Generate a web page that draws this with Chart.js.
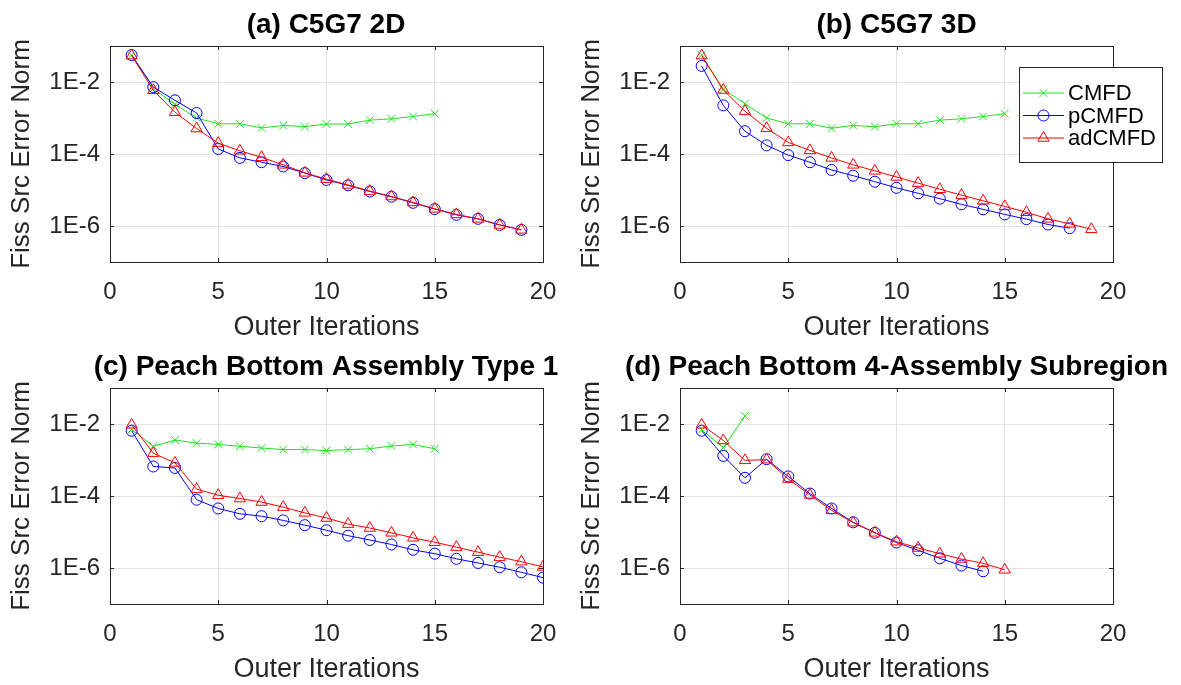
<!DOCTYPE html>
<html lang="en">
<head>
    <meta charset="UTF-8">
    <title>Fission Source Error Convergence</title>
    <style>
        html, body {
            margin: 0;
            padding: 0;
            background: #ffffff;
            overflow: hidden;
        }
        .page {
            position: relative;
            width: 1181px;
            height: 685px;
            overflow: hidden;
        }
        .page canvas {
            position: absolute;
        }
    </style>
    <script src="https://cdn.jsdelivr.net/npm/chart.js"></script>
</head>
<body>
<div class="page">
    <canvas id="chart-a" width="652" height="342" style="left:0px;top:0px;"></canvas>
    <canvas id="chart-b" width="653" height="342" style="left:570px;top:0px;"></canvas>
    <canvas id="chart-c" width="652" height="342" style="left:0px;top:342px;"></canvas>
    <canvas id="chart-d" width="653" height="342" style="left:570px;top:342px;"></canvas>
</div>
<script>
    // Series values (error norm per outer iteration, starting at iteration 1)
    const seriesNames = ['CMFD', 'pCMFD', 'adCMFD'];

    // (a) C5G7 2D
    const aCmfd = [5.6e-2, 6.5e-3, 2.4e-3, 1.0e-3, 6.9e-4, 6.9e-4, 5.3e-4, 6.2e-4, 5.75e-4, 6.8e-4, 6.8e-4, 8.7e-4, 9.5e-4, 1.1e-3, 1.32e-3];
    const aPcmfd = [5.6e-2, 7.2e-3, 3.1e-3, 1.38e-3, 1.38e-4, 7.8e-5, 5.9e-5, 4.5e-5, 2.95e-5, 1.9e-5, 1.35e-5, 9.1e-6, 6.5e-6, 4.4e-6, 2.95e-6, 2.04e-6, 1.58e-6, 1.07e-6, 7.8e-7];
    const aAdcmfd = [5.4e-2, 5.9e-3, 1.45e-3, 5.1e-4, 2.0e-4, 1.23e-4, 8.1e-5, 5.0e-5, 3.0e-5, 2.0e-5, 1.38e-5, 9.3e-6, 6.6e-6, 4.5e-6, 3.0e-6, 2.1e-6, 1.58e-6, 1.07e-6, 7.8e-7];

    // (b) C5G7 3D
    const bCmfd = [5.6e-2, 6.3e-3, 2.5e-3, 1.0e-3, 6.9e-4, 6.9e-4, 5.2e-4, 6.2e-4, 5.75e-4, 6.9e-4, 6.9e-4, 8.7e-4, 9.5e-4, 1.1e-3, 1.32e-3];
    const bPcmfd = [2.8e-2, 2.24e-3, 4.3e-4, 1.74e-4, 9.3e-5, 5.9e-5, 3.6e-5, 2.5e-5, 1.7e-5, 1.15e-5, 8.1e-6, 5.75e-6, 4.0e-6, 2.9e-6, 2.1e-6, 1.55e-6, 1.1e-6, 8.7e-7];
    const bAdcmfd = [5.4e-2, 6.0e-3, 1.55e-3, 5.2e-4, 2.1e-4, 1.26e-4, 7.8e-5, 5.0e-5, 3.4e-5, 2.3e-5, 1.55e-5, 1.05e-5, 7.2e-6, 5.0e-6, 3.5e-6, 2.4e-6, 1.58e-6, 1.15e-6, 8.1e-7];

    // (c) Peach Bottom Assembly Type 1
    const cCmfd = [7.1e-3, 2.4e-3, 3.6e-3, 2.95e-3, 2.7e-3, 2.4e-3, 2.15e-3, 1.95e-3, 1.95e-3, 1.82e-3, 1.95e-3, 2.05e-3, 2.45e-3, 2.7e-3, 2.05e-3];
    const cPcmfd = [6.5e-3, 6.6e-4, 6.0e-4, 7.9e-5, 4.5e-5, 3.2e-5, 2.75e-5, 2.1e-5, 1.55e-5, 1.12e-5, 7.9e-6, 6.0e-6, 4.5e-6, 3.2e-6, 2.5e-6, 1.8e-6, 1.38e-6, 1.05e-6, 7.6e-7, 5.4e-7];
    const cAdcmfd = [9.5e-3, 1.55e-3, 8.3e-4, 1.55e-4, 1.05e-4, 8.5e-5, 6.8e-5, 4.9e-5, 3.4e-5, 2.45e-5, 1.66e-5, 1.29e-5, 9.5e-6, 6.9e-6, 5.2e-6, 3.8e-6, 2.75e-6, 2.0e-6, 1.5e-6, 1.07e-6];

    // (d) Peach Bottom 4-Assembly Subregion
    const dCmfd = [6.9e-3, 2.2e-3, 1.66e-2];
    const dPcmfd = [6.5e-3, 1.3e-3, 3.2e-4, 1.05e-3, 3.5e-4, 1.17e-4, 4.5e-5, 1.86e-5, 9.5e-6, 5.1e-6, 3.1e-6, 1.86e-6, 1.17e-6, 8.1e-7];
    const dAdcmfd = [9.5e-3, 3.5e-3, 9.8e-4, 1.02e-3, 2.95e-4, 1.07e-4, 4.0e-5, 1.82e-5, 9.5e-6, 5.4e-6, 3.6e-6, 2.5e-6, 1.78e-6, 1.35e-6, 8.9e-7];

    // Axis ticks
    const xTicks = [0, 5, 10, 15, 20];
    const yTickVals = [1e-6, 1e-4, 1e-2];
    const yTickLabels = ['1E-6', '1E-4', '1E-2'];

    const FONT = "'Liberation Sans', Arial, Helvetica, sans-serif";
    const TEXT = '#262626';
    const GRID = '#e3e3e3';
    const COLORS = ['#22e022', '#0000ff', '#ff0000'];
    const STYLES = ['crossRot', 'circle', 'triangle'];
    const RADII = [5.5, 5.5, 6.5];

    function toPoints(values) {
        return values.map((v, i) => ({ x: i + 1, y: v }));
    }

    function drawMarker(ctx, style, x, y, r) {
        ctx.beginPath();
        if (style === 'circle') {
            ctx.arc(x, y, r, 0, Math.PI * 2);
        } else if (style === 'triangle') {
            for (let k = 0; k < 3; k++) {
                const a = k * 2 * Math.PI / 3;
                const px = x + Math.sin(a) * r;
                const py = y - Math.cos(a) * r;
                if (k === 0) ctx.moveTo(px, py); else ctx.lineTo(px, py);
            }
            ctx.closePath();
        } else {
            const d = r * Math.SQRT1_2;
            ctx.moveTo(x - d, y - d); ctx.lineTo(x + d, y + d);
            ctx.moveTo(x - d, y + d); ctx.lineTo(x + d, y - d);
        }
        ctx.stroke();
    }

    // box around the plot area plus small inward tick marks (MATLAB style)
    const boxPlugin = {
        id: 'box',
        beforeDatasetsDraw(chart) {
            const ctx = chart.ctx;
            const a = chart.chartArea;
            const xs = chart.scales.x, ys = chart.scales.y;
            ctx.save();
            ctx.strokeStyle = TEXT;
            ctx.lineWidth = 1;
            ctx.strokeRect(Math.round(a.left) + 0.5, Math.round(a.top) + 0.5,
                Math.round(a.right - a.left), Math.round(a.bottom - a.top));
            ctx.beginPath();
            xTicks.forEach(t => {
                const px = Math.round(xs.getPixelForValue(t)) + 0.5;
                ctx.moveTo(px, a.bottom); ctx.lineTo(px, a.bottom - 4);
                ctx.moveTo(px, a.top); ctx.lineTo(px, a.top + 4);
            });
            yTickVals.forEach(t => {
                const py = Math.round(ys.getPixelForValue(t)) + 0.5;
                ctx.moveTo(a.left, py); ctx.lineTo(a.left + 4, py);
                ctx.moveTo(a.right, py); ctx.lineTo(a.right - 4, py);
            });
            ctx.stroke();
            ctx.restore();
        }
    };

    // legend box drawn inside panel (b), overlapping the right edge
    const legendPlugin = {
        id: 'boxLegend',
        afterDraw(chart, args, opts) {
            if (!opts.show) return;
            const ctx = chart.ctx;
            const left = 449, top = 67, right = 592, bottom = 162;
            ctx.save();
            ctx.fillStyle = '#ffffff';
            ctx.fillRect(left, top, right - left, bottom - top);
            ctx.strokeStyle = TEXT;
            ctx.lineWidth = 1;
            ctx.strokeRect(left + 0.5, top + 0.5, right - left, bottom - top);
            const rows = [93, 115.5, 138];
            ctx.font = '22px ' + FONT;
            ctx.textBaseline = 'middle';
            ctx.textAlign = 'left';
            seriesNames.forEach((name, i) => {
                ctx.strokeStyle = COLORS[i];
                ctx.lineWidth = 1;
                ctx.beginPath();
                ctx.moveTo(453, rows[i]); ctx.lineTo(494, rows[i]);
                ctx.stroke();
                drawMarker(ctx, STYLES[i], 473.5, rows[i], RADII[i]);
                ctx.fillStyle = '#000000';
                ctx.fillText(name, 498, rows[i] + 1);
            });
            ctx.restore();
        }
    };

    function makePanel(id, title, series, rightPad, legend) {
        const datasets = series.map((vals, i) => ({
            label: seriesNames[i],
            data: toPoints(vals),
            borderColor: COLORS[i],
            backgroundColor: 'rgba(0,0,0,0)',
            borderWidth: 1,
            pointStyle: STYLES[i],
            pointRadius: RADII[i],
            pointBorderColor: COLORS[i],
            pointBackgroundColor: 'rgba(0,0,0,0)',
            pointBorderWidth: 1,
            tension: 0,
            fill: false,
            order: 2 - i
        }));

        new Chart(document.getElementById(id), {
            type: 'line',
            data: { datasets: datasets },
            plugins: [boxPlugin, legendPlugin],
            options: {
                responsive: false,
                animation: false,
                events: [],
                layout: { padding: 0 },
                plugins: {
                    legend: { display: false },
                    tooltip: { enabled: false },
                    boxLegend: { show: legend },
                    title: {
                        display: true,
                        text: title,
                        color: '#000000',
                        font: { family: FONT, size: 28, weight: 'bold', lineHeight: 1.2 },
                        padding: { top: 8.8, bottom: 3.6 }
                    }
                },
                scales: {
                    x: {
                        type: 'linear',
                        min: 0,
                        max: 20,
                        afterBuildTicks: s => { s.ticks = xTicks.map(v => ({ value: v })); },
                        afterFit: s => { s.height = 80; },
                        grid: { color: GRID, drawTicks: false },
                        border: { display: false },
                        ticks: {
                            color: TEXT,
                            padding: 16,
                            maxRotation: 0,
                            font: { family: FONT, size: 24 },
                            callback: v => String(v)
                        },
                        title: {
                            display: true,
                            text: 'Outer Iterations',
                            color: TEXT,
                            font: { family: FONT, size: 27, lineHeight: 1 },
                            padding: { top: 0, bottom: 0.5 }
                        }
                    },
                    y: {
                        type: 'logarithmic',
                        position: 'left',
                        min: 1e-7,
                        max: 1e-1,
                        afterBuildTicks: s => { s.ticks = yTickVals.map(v => ({ value: v })); },
                        afterFit: s => { s.width = 110; },
                        grid: { color: GRID, drawTicks: false },
                        border: { display: false },
                        ticks: {
                            color: TEXT,
                            padding: 10,
                            font: { family: FONT, size: 24 },
                            callback: v => {
                                const k = yTickVals.indexOf(v);
                                return k >= 0 ? yTickLabels[k] : '';
                            }
                        },
                        title: {
                            display: true,
                            text: 'Fiss Src Error Norm',
                            color: TEXT,
                            font: { family: FONT, size: 26, lineHeight: 1.2 },
                            padding: { top: 6, bottom: 0 }
                        }
                    },
                    // empty right axis only keeps the plot centred under the title
                    pad: {
                        type: 'linear',
                        position: 'right',
                        display: true,
                        afterFit: s => { s.width = rightPad; },
                        grid: { display: false, drawTicks: false },
                        border: { display: false },
                        ticks: { display: false }
                    }
                }
            }
        });
    }

    makePanel('chart-a', '(a) C5G7 2D', [aCmfd, aPcmfd, aAdcmfd], 109, false);
    makePanel('chart-b', '(b) C5G7 3D', [bCmfd, bPcmfd, bAdcmfd], 110, true);
    makePanel('chart-c', '(c) Peach Bottom Assembly Type 1', [cCmfd, cPcmfd, cAdcmfd], 109, false);
    makePanel('chart-d', '(d) Peach Bottom 4-Assembly Subregion', [dCmfd, dPcmfd, dAdcmfd], 110, false);
</script>
</body>
</html>
